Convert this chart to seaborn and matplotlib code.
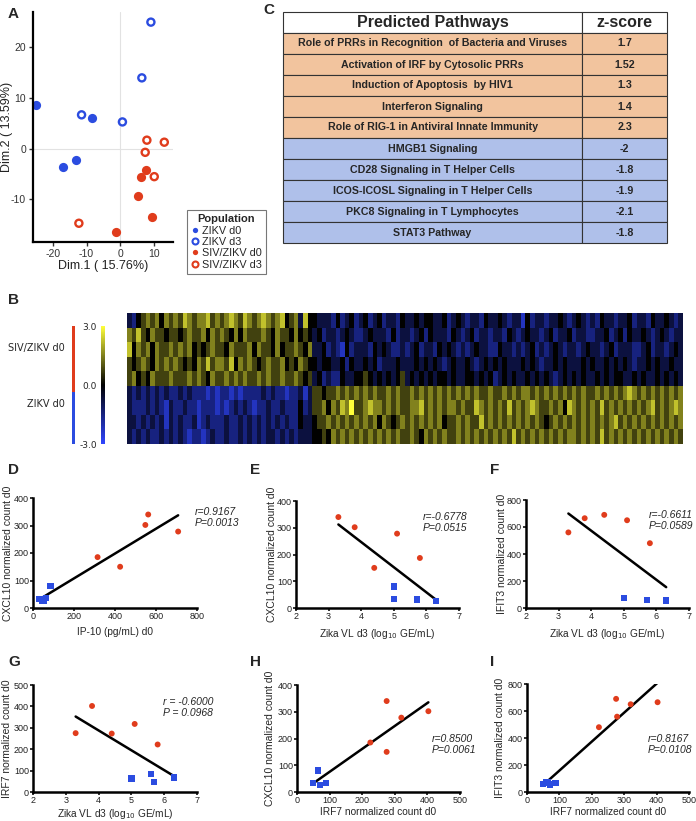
import numpy as np
import pandas as pd
import matplotlib
matplotlib.use('Agg')
import matplotlib.pyplot as plt
import seaborn as sns
from matplotlib.colors import LinearSegmentedColormap, ListedColormap
from matplotlib.lines import Line2D

sns.set_style('ticks')
plt.rcParams['font.family'] = ['Liberation Sans', 'DejaVu Sans']
plt.rcParams['axes.unicode_minus'] = False

BLUE = '#2B4CE0'
RED = '#E03C1C'

# ---- A: PCA scores ----
pca_group = ['ZIKV d0'] * 4 + ['ZIKV d3'] * 4 + ['SIV/ZIKV d0'] * 5 + ['SIV/ZIKV d3'] * 5
pca_dim1 = [-25.0, -17.0, -13.2, -8.3,
            9.2, 6.5, -11.5, 0.7,
            7.8, 6.2, 5.3, 9.6, -1.3,
            8.0, 13.2, 7.5, 10.2, -12.3]
pca_dim2 = [8.6, -3.5, -2.3, 6.1,
            25.0, 14.0, 6.7, 5.3,
            -4.1, -5.6, -9.3, -13.4, -16.5,
            1.7, 1.3, -0.7, -5.5, -14.7]
pca_levels = ['ZIKV d0', 'ZIKV d3', 'SIV/ZIKV d0', 'SIV/ZIKV d3']

# ---- C: pathway table ----
pathways = ['Role of PRRs in Recognition  of Bacteria and Viruses',
            'Activation of IRF by Cytosolic PRRs',
            'Induction of Apoptosis  by HIV1',
            'Interferon Signaling',
            'Role of RIG-1 in Antiviral Innate Immunity',
            'HMGB1 Signaling',
            'CD28 Signaling in T Helper Cells',
            'ICOS-ICOSL Signaling in T Helper Cells',
            'PKC8 Signaling in T Lymphocytes',
            'STAT3 Pathway']
zscores = [1.7, 1.52, 1.3, 1.4, 2.3, -2, -1.8, -1.9, -2.1, -1.8]

# ---- B: heatmap, one string per sample, digit d -> (d - 4) * 0.75 ----
heat_groups = ['SIV/ZIKV d0'] * 5 + ['ZIKV d0'] * 4
heat_rows = [
    '3245656465' '6576566756' '5676576567' '6567456374' '4333242342' '3423423324'
    '3343443342' '3432332433' '4323314233' '2334323432' '3243323342' '3324334323',
    '6575465545' '5456556465' '6546465556' '5465546454' '3423323432' '2343332423'
    '3234243332' '4323423323' '3243234332' '3423342332' '2334234243' '3432343233',
    '7465646556' '5656454565' '5465556465' '5464556546' '3342321423' '3324343223'
    '2342332434' '3232343322' '4332323423' '2343233234' '3323423332' '2342332343',
    '5456546565' '6545465756' '6574656545' '6556454654' '4344334243' '3434233343'
    '3343434323' '4334323434' '3433343432' '3343433343' '4334343432' '3343433433',
    '5645465556' '5556565465' '5656565565' '6556556545' '3423224334' '4543434345'
    '3434343443' '4334434342' '3434334343' '4323434343' '3434344334' '3433434343',
    '3232323232' '2323222121' '2212122223' '2322122313' '5545565656' '5656556565'
    '5656565656' '5656565565' '5656566565' '6565656565' '5656565676' '5656565656',
    '3222323213' '2232212221' '2123232122' '3223222423' '5564657685' '5676656565'
    '5667565656' '6565576565' '6575656765' '5656476565' '6575656565' '6567565676',
    '3323232313' '2322312322' '2322323232' '3232322433' '4556565656' '5656465456'
    '5656565645' '5656557565' '6565656565' '4565656565' '6565675656' '5656565656',
    '3232322323' '2321221232' '2322323232' '3323232333' '4454656565' '6565656565'
    '5654656565' '5656565656' '5657565656' '5656566565' '6575656565' '6565656565',
]

# ---- D-I: correlations (red = SIV/ZIKV, blue = ZIKV) ----
d_red_x = [315, 425, 548, 562, 708]
d_red_y = [185, 150, 302, 340, 278]
d_blue_x = [32, 45, 52, 65, 85]
d_blue_y = [33, 27, 25, 35, 80]

e_red_x = [3.3, 3.8, 4.4, 5.1, 5.8]
e_red_y = [340, 302, 150, 278, 187]
e_blue_x = [5.0, 5.0, 5.7, 6.3]
e_blue_y = [80, 35, 32, 25]

f_red_x = [3.3, 3.8, 4.4, 5.1, 5.8]
f_red_y = [560, 665, 690, 650, 480]
f_blue_x = [5.0, 5.7, 6.3]
f_blue_y = [75, 60, 55]

g_red_x = [3.3, 3.8, 4.4, 5.1, 5.8]
g_red_y = [275, 402, 273, 318, 222]
g_blue_x = [5.0, 5.6, 5.7, 6.3]
g_blue_y = [63, 85, 48, 68]

h_red_x = [225, 275, 275, 320, 403]
h_red_y = [185, 340, 150, 278, 302]
h_blue_x = [50, 65, 70, 88]
h_blue_y = [33, 80, 25, 33]

i_red_x = [222, 275, 278, 320, 403]
i_red_y = [480, 690, 558, 650, 665]
i_blue_x = [50, 60, 65, 70, 88]
i_blue_y = [60, 75, 70, 55, 68]

W, H = 696, 821


def box(x0, y0, x1, y1):
    """pixel box (top-left origin) -> figure fraction rect"""
    return [x0 / W, 1 - y1 / H, (x1 - x0) / W, (y1 - y0) / H]


def letter(x, y, s):
    fig.text(x / W, 1 - y / H, s, fontsize=11, fontweight='bold', ha='left', va='center')


fig = plt.figure(figsize=(6.96, 8.21), dpi=100)

# ================= A =================
axa = fig.add_axes(box(33, 12, 173, 242))
pca = pd.DataFrame({'dim1': pca_dim1, 'dim2': pca_dim2, 'group': pca_group})
axa.axvline(0, color='#e2e2e2', lw=0.8, zorder=0)
axa.axhline(0, color='#e2e2e2', lw=0.8, zorder=0)
styles = {'ZIKV d0': (BLUE, True), 'ZIKV d3': (BLUE, False),
          'SIV/ZIKV d0': (RED, True), 'SIV/ZIKV d3': (RED, False)}
for g in pca_levels:
    col, filled = styles[g]
    sub = pca[pca['group'] == g]
    sns.scatterplot(data=sub, x='dim1', y='dim2', ax=axa, s=44 if filled else 26,
                    color=col, facecolor=col if filled else 'none', edgecolor=col,
                    linewidth=0 if filled else 1.7)
axa.set_xlim(-26, 15.8)
axa.set_ylim(-18.4, 27)
axa.set_xticks([-20, -10, 0, 10])
axa.set_yticks([-10, 0, 10, 20])
axa.set_xlabel('Dim.1 ( 15.76%)', fontsize=9, color='#222222')
axa.set_ylabel('Dim.2 ( 13.59%)', fontsize=9, color='#222222')
axa.xaxis.set_label_coords(0.5, -18 / 230)
axa.yaxis.set_label_coords(-20 / 140, 0.5)
axa.tick_params(labelsize=7.5, length=3, width=1, pad=2, colors='#333333')
sns.despine(ax=axa)
for sp in ['left', 'bottom']:
    axa.spines[sp].set_linewidth(1.6)
    axa.spines[sp].set_color('black')

handles = []
for g in pca_levels:
    col, filled = styles[g]
    handles.append(Line2D([], [], ls='none', marker='o', markersize=3.8 if filled else 4.3,
                          markerfacecolor=col if filled else 'none', markeredgecolor=col,
                          markeredgewidth=0 if filled else 1.5, label=g))
leg = fig.legend(handles=handles, title='Population', loc='upper left',
                 bbox_to_anchor=(187 / W, 1 - 210 / H), fontsize=7.8, title_fontsize=8,
                 frameon=True, fancybox=False, edgecolor='#555555', handlelength=0.6,
                 handletextpad=0.35, borderpad=0.4, labelspacing=0.12, borderaxespad=0)
leg.get_title().set_fontweight('bold')
leg.get_frame().set_linewidth(0.8)

# ================= C =================
axc = fig.add_axes(box(283, 12, 667, 243))
axc.axis('off')
cell_text = [[p, f'{z:g}'] for p, z in zip(pathways, zscores)]
cell_cols = [['#F2C49E'] * 2 if z > 0 else ['#AFC0EA'] * 2 for z in zscores]
tbl = axc.table(cellText=cell_text, colLabels=['Predicted Pathways', 'z-score'],
                cellColours=cell_cols, colWidths=[0.779, 0.221], cellLoc='center',
                bbox=[0, 0, 1, 1])
tbl.auto_set_font_size(False)
for (r, c), cell in tbl.get_celld().items():
    cell.set_edgecolor('#333333')
    cell.set_linewidth(0.8)
    txt = cell.get_text()
    txt.set_fontweight('bold')
    txt.set_fontsize(11.5 if r == 0 else 7.7)
letter(263, 10, 'C')

# ================= B =================
heat = np.array([[(int(ch) - 4) * 0.75 for ch in row] for row in heat_rows])
cmap = LinearSegmentedColormap.from_list('byk', ['#2F45FF', '#000000', '#FFFF3A'])
axh = fig.add_axes(box(127, 313, 683, 444))
caxh = fig.add_axes(box(101, 326, 105, 444))
sns.heatmap(heat, ax=axh, cmap=cmap, vmin=-3, vmax=3, cbar_ax=caxh,
            xticklabels=False, yticklabels=False)
cb = axh.collections[0].colorbar
cb.outline.set_visible(False)
cb.set_ticks([3, 0, -3])
cb.set_ticklabels(['3.0', '0.0', '-3.0'])
caxh.yaxis.set_ticks_position('left')
caxh.tick_params(length=0, labelsize=6.5, pad=3)
for t in caxh.get_yticklabels():
    t.set_fontfamily('DejaVu Sans')

axg = fig.add_axes(box(72, 326, 75, 444))
grp = np.array([[0 if g == 'SIV/ZIKV d0' else 1] for g in heat_groups])
sns.heatmap(grp, ax=axg, cmap=ListedColormap([RED, BLUE]), cbar=False,
            xticklabels=False, yticklabels=False)
fig.text(65 / W, 1 - 348 / H, 'SIV/ZIKV d0', ha='right', va='center', fontsize=7,
         family='DejaVu Sans')
fig.text(65 / W, 1 - 404 / H, 'ZIKV d0', ha='right', va='center', fontsize=7,
         family='DejaVu Sans')


# ================= D-I =================
def corr_panel(rect, rx, ry, bx, by, xlim, xticks, ylim, yticks, xlabel, ylabel, stat,
               stat_xy, xlab_off, ylab_off):
    ax = fig.add_axes(box(*rect))
    w, h = rect[2] - rect[0], rect[3] - rect[1]
    df = pd.DataFrame({'x': rx + bx, 'y': ry + by})
    sns.regplot(data=df, x='x', y='y', ax=ax, scatter=False, ci=None, truncate=True,
                line_kws={'color': 'black', 'lw': 1.8})
    sns.scatterplot(x=rx, y=ry, ax=ax, color=RED, s=18, edgecolor='none', marker='o',
                    zorder=3, clip_on=False)
    sns.scatterplot(x=bx, y=by, ax=ax, color=BLUE, s=20, edgecolor='none', marker='s',
                    zorder=3, clip_on=False)
    ax.set_xlim(*xlim)
    ax.set_ylim(*ylim)
    ax.set_xticks(xticks)
    ax.set_yticks(yticks)
    ax.set_xlabel(xlabel, fontsize=7.3)
    ax.set_ylabel(ylabel, fontsize=7.5)
    ax.xaxis.set_label_coords(0.5, -xlab_off / h)
    ax.yaxis.set_label_coords(-ylab_off / w, 0.5)
    ax.tick_params(labelsize=6.5, length=2, width=1.3, pad=1, colors='#222222')
    sns.despine(ax=ax)
    for sp in ['left', 'bottom']:
        ax.spines[sp].set_linewidth(1.8)
        ax.spines[sp].set_color('black')
    fig.text(stat_xy[0] / W, 1 - stat_xy[1] / H, stat, fontsize=7.5, style='italic',
             ha='left', va='top', linespacing=1.1)
    return ax


vl_label = 'Zika VL d3 (log$_{10}$ GE/mL)'
corr_panel((33, 498, 197, 608), d_red_x, d_red_y, d_blue_x, d_blue_y,
           (0, 800), range(0, 801, 200), (0, 400), range(0, 401, 100),
           'IP-10 (pg/mL) d0', 'CXCL10 normalized count d0', 'r=0.9167\nP=0.0013', (195, 507),
           19, 20)
corr_panel((296, 501, 459, 608), e_red_x, e_red_y, e_blue_x, e_blue_y,
           (2, 7), range(2, 8), (0, 400), range(0, 401, 100),
           vl_label, 'CXCL10 normalized count d0', 'r=-0.6778\nP=0.0515', (423, 512),
           19, 19)
corr_panel((526, 500, 689, 608), f_red_x, f_red_y, f_blue_x, f_blue_y,
           (2, 7), range(2, 8), (0, 800), range(0, 801, 200),
           vl_label, 'IFIT3 normalized count d0', 'r=-0.6611\nP=0.0589', (649, 510),
           19, 19)
corr_panel((33, 685, 197, 792), g_red_x, g_red_y, g_blue_x, g_blue_y,
           (2, 7), range(2, 8), (0, 500), range(0, 501, 100),
           vl_label, 'IRF7 normalized count d0', 'r = -0.6000\nP = 0.0968', (163, 697),
           15, 21)
corr_panel((297, 685, 460, 792), h_red_x, h_red_y, h_blue_x, h_blue_y,
           (0, 500), range(0, 501, 100), (0, 400), range(0, 401, 100),
           'IRF7 normalized count d0', 'CXCL10 normalized count d0', 'r=0.8500\nP=0.0061',
           (432, 734), 15, 22)
corr_panel((527, 684, 689, 792), i_red_x, i_red_y, i_blue_x, i_blue_y,
           (0, 500), range(0, 501, 100), (0, 800), range(0, 801, 200),
           'IRF7 normalized count d0', 'IFIT3 normalized count d0', 'r=0.8167\nP=0.0108',
           (648, 734), 15, 22)

letter(8, 14, 'A')
letter(8, 300, 'B')
letter(8, 470, 'D')
letter(250, 470, 'E')
letter(490, 470, 'F')
letter(8, 662, 'G')
letter(250, 662, 'H')
letter(490, 662, 'I')

fig.savefig('out.png', dpi=100)
